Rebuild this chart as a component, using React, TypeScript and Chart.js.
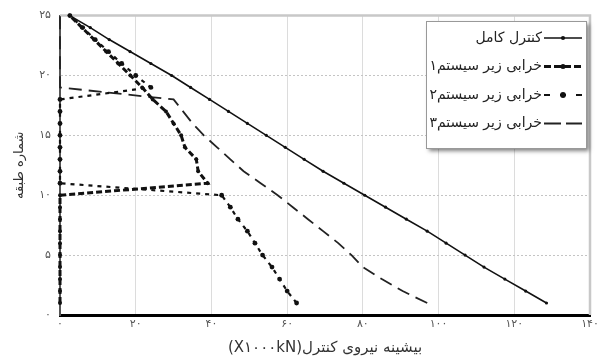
import { useEffect, useRef } from 'react';
import { Chart, registerables } from 'chart.js';

Chart.register(...registerables);

// Floor numbers (y values)
const floors = [1, 2, 3, 4, 5, 6, 7, 8, 9, 10, 11, 12, 13, 14, 15, 16, 17, 18, 19, 20, 21, 22, 23, 24, 25];

// Peak control force (x values, ×1000 kN) per floor
const fullControl = [128.5, 123, 117.5, 112, 107, 102, 97, 91.5, 86, 80.5, 75, 69.5, 64.5, 59.5, 54.5, 49.5, 44.5, 39.5, 34.5, 29.5, 24, 18.5, 13, 8, 2.6];
const subsystem1 = [0, 0, 0, 0, 0, 0, 0, 0, 0, 0, 39, 36.5, 36, 33, 32, 30, 28, 24.5, 21.7, 18.6, 15.4, 12.2, 9, 5.8, 2.6];
const subsystem2 = [62.5, 60, 58, 56, 53.5, 51.5, 49.5, 47, 45, 42.7, 0, 0, 0, 0, 0, 0, 0, 0, 24, 20, 16.3, 12.8, 9.3, 6, 2.6];
const subsystem3 = [97, 90.5, 85, 80, 77, 73.5, 69.5, 65.5, 61.5, 57.5, 53, 48.5, 45, 41.5, 38, 35, 32.5, 30, 0, 0, 0, 0, 0, 0, 0];

const seriesLabels = ['کنترل کامل', 'خرابی زیر سیستم۱', 'خرابی زیر سیستم۲', 'خرابی زیر سیستم۳'];
const xTickLabels = ['۰', '۲۰', '۴۰', '۶۰', '۸۰', '۱۰۰', '۱۲۰', '۱۴۰'];
const yTickLabels = ['۰', '۵', '۱۰', '۱۵', '۲۰', '۲۵'];
const xTitle = 'بیشینه نیروی کنترل(X۱۰۰۰kN)';
const yTitle = 'شماره طبقه';

const FONT = "'DejaVu Sans', 'Noto Sans', sans-serif";

const toPoints = (xs: number[]) => xs.map((x, i) => ({ x, y: floors[i] }));

const frameAndLegend = {
  id: 'frameAndLegend',
  beforeDatasetsDraw(chart: any) {
    const { ctx, chartArea } = chart;
    ctx.save();
    ctx.strokeStyle = '#c8c8c8';
    ctx.lineWidth = 2.5;
    ctx.beginPath();
    ctx.moveTo(chartArea.left, chartArea.top);
    ctx.lineTo(chartArea.right, chartArea.top);
    ctx.lineTo(chartArea.right, chartArea.bottom);
    ctx.stroke();
    ctx.restore();
  },
  afterDraw(chart: any) {
    const { ctx } = chart;
    const x0 = 426, y0 = 21, w = 160, h = 127;
    ctx.save();
    ctx.shadowColor = 'rgba(0,0,0,0.5)';
    ctx.shadowBlur = 4;
    ctx.shadowOffsetX = 3;
    ctx.shadowOffsetY = 3;
    ctx.fillStyle = '#fff';
    ctx.fillRect(x0, y0, w, h);
    ctx.shadowColor = 'transparent';
    ctx.strokeStyle = '#999';
    ctx.lineWidth = 1;
    ctx.strokeRect(x0 + 0.5, y0 + 0.5, w, h);
    chart.data.datasets.forEach((ds: any, i: number) => {
      const y = y0 + 17 + i * 28.5;
      const sx1 = x0 + w - 42, sx2 = x0 + w - 4;
      ctx.save();
      ctx.strokeStyle = ds.borderColor;
      ctx.lineWidth = ds.borderWidth;
      ctx.setLineDash(ds.legendDash || []);
      ctx.beginPath();
      ctx.moveTo(sx1, y);
      ctx.lineTo(sx2, y);
      ctx.stroke();
      ctx.setLineDash([]);
      if (ds.pointRadius > 0) {
        ctx.fillStyle = ds.pointBackgroundColor;
        ctx.beginPath();
        ctx.arc((sx1 + sx2) / 2, y, ds.pointRadius + 0.5, 0, Math.PI * 2);
        ctx.fill();
      }
      ctx.restore();
      ctx.fillStyle = '#222';
      ctx.font = `14px ${FONT}`;
      ctx.textAlign = 'right';
      ctx.textBaseline = 'middle';
      ctx.fillText(ds.label, sx1 - 2, y);
    });
    ctx.restore();
  },
};

export default function App() {
  const ref = useRef<HTMLCanvasElement | null>(null);
  useEffect(() => {
    document.body.style.margin = '0';
    const canvas = ref.current!;
    const chart = new Chart(canvas, {
      type: 'scatter',
      data: {
        datasets: [
          {
            label: seriesLabels[0],
            data: toPoints(fullControl),
            showLine: true,
            borderColor: '#111',
            borderWidth: 1.6,
            pointRadius: 1.6,
            pointBackgroundColor: '#111',
            pointBorderWidth: 0,
            legendDash: [],
            clip: false,
          } as any,
          {
            label: seriesLabels[1],
            data: toPoints(subsystem1),
            showLine: true,
            borderColor: '#111',
            borderWidth: 3,
            borderDash: [6, 3],
            pointRadius: 2,
            pointBackgroundColor: '#111',
            pointBorderWidth: 0,
            legendDash: [7, 3],
            clip: false,
          },
          {
            label: seriesLabels[2],
            data: toPoints(subsystem2),
            showLine: true,
            borderColor: '#111',
            borderWidth: 2.2,
            borderDash: [4, 5],
            pointRadius: 2.4,
            pointBackgroundColor: '#111',
            pointBorderWidth: 0,
            legendDash: [6, 10],
            clip: false,
          },
          {
            label: seriesLabels[3],
            data: toPoints(subsystem3),
            showLine: true,
            borderColor: '#222',
            borderWidth: 1.8,
            borderDash: [13, 7],
            pointRadius: 0,
            pointBackgroundColor: '#222',
            legendDash: [17, 5],
            clip: false,
          },
        ],
      },
      options: {
        animation: false,
        responsive: false,
        layout: { padding: { top: 14, right: 12, left: 0, bottom: 0 } },
        plugins: { legend: { display: false }, tooltip: { enabled: false } },
        scales: {
          x: {
            type: 'linear',
            min: 0,
            max: 140,
            ticks: {
              stepSize: 20,
              padding: 3,
              color: '#555',
              font: { family: FONT, size: 11 },
              callback: (_v: any, i: number) => xTickLabels[i],
            },
            grid: { color: '#dcdcdc', lineWidth: 1, drawTicks: false },
            border: { color: '#000', width: 3 },
            title: {
              display: true,
              text: xTitle,
              color: '#333',
              font: { family: FONT, size: 15 },
              padding: { top: 0, bottom: 5 },
            },
            afterFit: (s: any) => { s.height = 47; },
          },
          y: {
            type: 'linear',
            min: 0,
            max: 25,
            ticks: {
              stepSize: 5,
              padding: 9,
              color: '#555',
              font: { family: FONT, size: 11 },
              callback: (_v: any, i: number) => yTickLabels[i],
            },
            grid: { color: '#c4c4c4', lineWidth: 1, drawTicks: false },
            border: { color: '#555', width: 2, dash: [2, 2] },
            title: {
              display: true,
              text: yTitle,
              color: '#333',
              font: { family: FONT, size: 13 },
              padding: { top: 12, bottom: 0 },
            },
            afterFit: (s: any) => { s.width = 60; },
          },
        },
      },
      plugins: [frameAndLegend],
    });
    return () => chart.destroy();
  }, []);
  return (
    <div style={{ position: 'fixed', left: 0, top: 0, width: 602, height: 362, background: '#fff' }}>
      <canvas ref={ref} width={602} height={362} dir="rtl" style={{ display: 'block', width: 602, height: 362 }} />
    </div>
  );
}
